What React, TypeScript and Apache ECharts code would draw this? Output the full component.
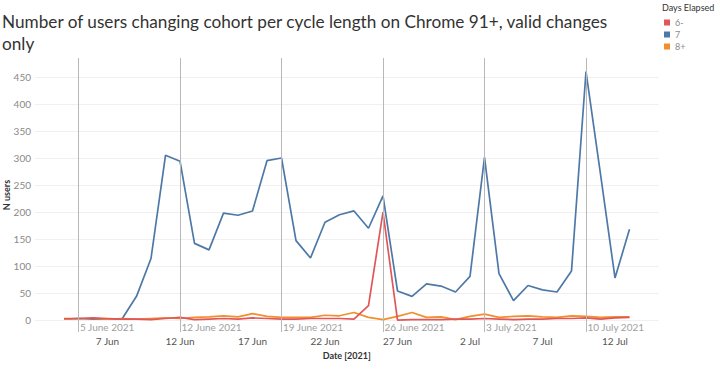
import React, { useEffect, useRef } from 'react';
import * as echarts from 'echarts';

const dates = [
  '2021-06-04', '2021-06-05', '2021-06-06', '2021-06-07', '2021-06-08', '2021-06-09', '2021-06-10',
  '2021-06-11', '2021-06-12', '2021-06-13', '2021-06-14', '2021-06-15', '2021-06-16', '2021-06-17',
  '2021-06-18', '2021-06-19', '2021-06-20', '2021-06-21', '2021-06-22', '2021-06-23', '2021-06-24',
  '2021-06-25', '2021-06-26', '2021-06-27', '2021-06-28', '2021-06-29', '2021-06-30', '2021-07-01',
  '2021-07-02', '2021-07-03', '2021-07-04', '2021-07-05', '2021-07-06', '2021-07-07', '2021-07-08',
  '2021-07-09', '2021-07-10', '2021-07-11', '2021-07-12', '2021-07-13',
];

const days6 = [
  3, 3, 4, 3, 2, 2, 1, 3, 5, 1, 2, 3, 2, 4, 3, 2, 2, 3, 3, 3, 2, 27, 200, 0,
  1, 1, 1, 2, 2, 3, 2, 1, 2, 2, 3, 3, 4, 2, 4, 5,
];
const days7 = [
  2, 3, 2, 2, 2, 44, 114, 305, 294, 142, 130, 198, 194, 202, 295, 300, 147, 115, 181, 195,
  202, 170, 230, 54, 44, 67, 63, 52, 81, 301, 86, 36, 64, 56, 52, 91, 460, 270, 78, 168,
];
const days8 = [
  2, 3, 3, 2, 3, 2, 3, 4, 3, 5, 6, 8, 6, 12, 7, 5, 5, 5, 9, 8,
  14, 5, 1, 7, 14, 5, 6, 1, 7, 11, 5, 7, 8, 6, 5, 8, 7, 5, 6, 6,
];

const seriesNames = ['6-', '7', '8+'];
const seriesColors = ['#e15759', '#4e79a7', '#f28e2b'];

const xTickDates = ['2021-06-07', '2021-06-12', '2021-06-17', '2021-06-22', '2021-06-27', '2021-07-02', '2021-07-07', '2021-07-12'];
const xTickLabels = ['7 Jun', '12 Jun', '17 Jun', '22 Jun', '27 Jun', '2 Jul', '7 Jul', '12 Jul'];
const refDates = ['2021-06-05', '2021-06-12', '2021-06-19', '2021-06-26', '2021-07-03', '2021-07-10'];
const refLabels = ['5 June 2021', '12 June 2021', '19 June 2021', '26 June 2021', '3 July 2021', '10 July 2021'];
const yTicks = [0, 50, 100, 150, 200, 250, 300, 350, 400, 450];

export default function App() {
  const ref = useRef<HTMLDivElement>(null);
  useEffect(() => {
    document.body.style.margin = '0';
    if (!ref.current) return;
    const chart = echarts.init(ref.current, null, { renderer: 'svg' });
    const font = 'Lato, "Noto Sans", sans-serif';
    const xTickIdx = xTickDates.map((d) => dates.indexOf(d));
    const refIdx = refDates.map((d) => dates.indexOf(d));
    const toData = (arr: number[]) => arr.map((v, i) => [i, v]);
    const allSeries = [days6, days7, days8];
    const zOrder = [4, 2, 3];

    const series: any[] = seriesNames.map((name, k) => ({
      name,
      type: 'line',
      data: toData(allSeries[k]),
      showSymbol: false,
      symbol: 'none',
      z: zOrder[k],
      lineStyle: { color: seriesColors[k], width: 1.7 },
      itemStyle: { color: seriesColors[k] },
    }));
    series.push({
      name: 'ref',
      type: 'line',
      data: [],
      z: 1,
      markLine: {
        silent: true,
        symbol: ['none', 'none'],
        label: { show: false },
        lineStyle: { color: '#b8b8b8', width: 1, type: 'solid' },
        data: refIdx.map((d) => ({ xAxis: d })),
      },
      markPoint: {
        silent: true,
        symbol: 'rect',
        symbolSize: 1,
        itemStyle: { color: 'rgba(0,0,0,0)' },
        label: {
          show: true,
          position: 'right',
          distance: 1,
          color: '#a0a0a0',
          fontSize: 10,
          fontFamily: font,
          formatter: (p: any) => p.name,
        },
        data: refIdx.map((d, i) => ({ coord: [d, -13], name: refLabels[i] })),
      },
    });

    chart.setOption({
      animation: false,
      backgroundColor: '#ffffff',
      title: [
        {
          text: 'Number of users changing cohort per cycle length on Chrome 91+, valid changes\nonly',
          left: 2,
          top: 10,
          padding: 0,
          textStyle: { fontFamily: font, fontSize: 17.2, fontWeight: 'normal', color: '#333333', lineHeight: 22 },
        },
        {
          text: 'Days Elapsed',
          left: 662,
          top: 3,
          padding: 0,
          textStyle: { fontFamily: font, fontSize: 9, fontWeight: 'normal', color: '#333333' },
        },
      ],
      legend: {
        data: seriesNames,
        orient: 'vertical',
        left: 664,
        top: 17,
        icon: 'rect',
        itemWidth: 6,
        itemHeight: 6,
        itemGap: 1,
        padding: 0,
        textStyle: { fontFamily: font, fontSize: 9, color: '#8a8a8a', lineHeight: 11 },
      },
      grid: { left: 35, right: 69.5, top: 58, bottom: 35, containLabel: false, outerBoundsMode: 'none' },
      xAxis: {
        type: 'value',
        min: -2,
        max: 41,
        name: 'Date [2021]',
        nameLocation: 'middle',
        nameGap: 19,
        nameMoveOverlap: false,
        nameTextStyle: { fontFamily: font, fontSize: 9, fontWeight: 'bold', color: '#333333' },
        axisLine: { show: false },
        axisTick: { show: false, customValues: xTickIdx },
        splitLine: { show: false },
        axisLabel: {
          customValues: xTickIdx,
          margin: 4,
          fontFamily: font,
          fontSize: 10,
          color: '#555555',
          formatter: (v: number) => {
            const i = xTickIdx.indexOf(v);
            return i >= 0 ? xTickLabels[i] : '';
          },
        },
      },
      yAxis: {
        type: 'value',
        min: -22,
        max: 485,
        name: 'N users',
        nameLocation: 'middle',
        nameGap: 24,
        nameMoveOverlap: false,
        nameRotate: 90,
        nameTextStyle: { fontFamily: font, fontSize: 9, fontWeight: 'bold', color: '#333333' },
        axisLine: { show: false },
        axisTick: { show: false, customValues: yTicks },
        axisLabel: {
          customValues: yTicks,
          margin: 4,
          fontFamily: font,
          fontSize: 10,
          color: '#888888',
        },
        splitLine: { show: true, lineStyle: { color: '#f0f0f0', width: 1 } },
      },
      series,
    });
    return () => chart.dispose();
  }, []);
  return <div ref={ref} style={{ width: 728, height: 367 }} />;
}
